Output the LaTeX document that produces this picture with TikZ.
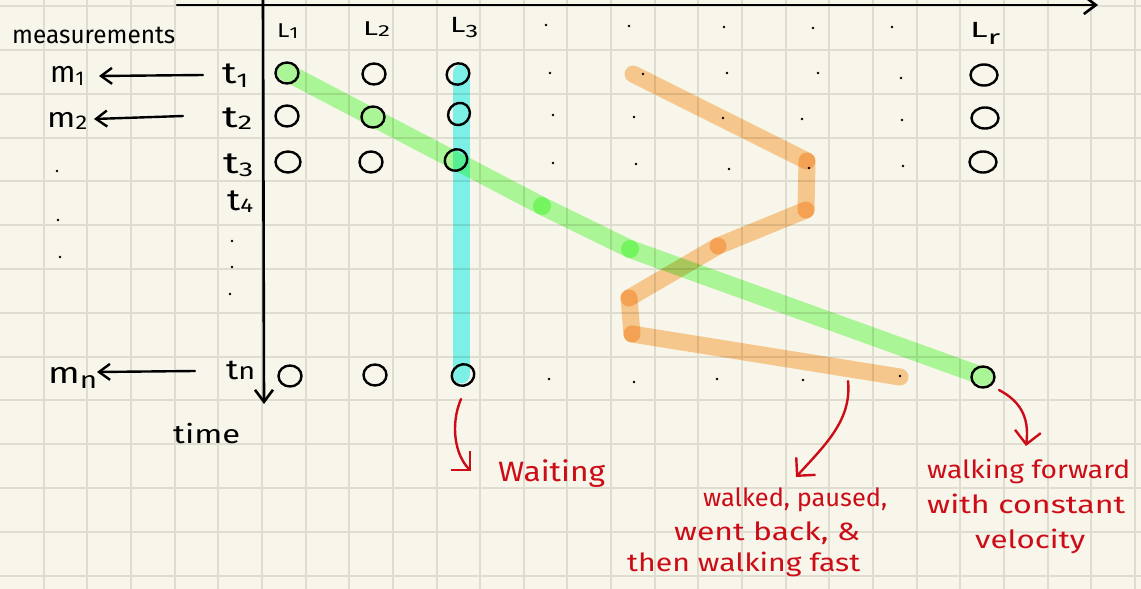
\documentclass[tikz,border=0pt]{standalone}
\usepackage{fontspec}
\setmainfont{Fira Sans}
\usepackage{graphicx}
\usetikzlibrary{arrows.meta,shapes.geometric}
\definecolor{paper}{RGB}{248,246,235}
\definecolor{gridc}{RGB}{223,221,208}
\definecolor{hlgreen}{RGB}{175,254,163}
\definecolor{hlcyan}{RGB}{128,249,250}
\definecolor{hlorange}{RGB}{253,207,152}
\definecolor{inkred}{RGB}{204,12,22}
\newcommand\fs[1]{\fontsize{#1}{#1}\selectfont}
\newcommand\fitw[2]{\resizebox{#1}{\height}{#2}}
\newcommand\lo[3]{\raisebox{-#1}{\fs{#2}#3}}
\tikzset{
  ink/.style={inner sep=0pt, text=black, anchor=base west},
  note/.style={inner sep=0pt, text=inkred, anchor=base west},
  circ/.style={ellipse, draw=black, line width=2.4pt, minimum width=23pt, minimum height=21pt, inner sep=0pt},
  circw/.style={circ, minimum width=27pt},
  hl/.style={line width=17pt, line cap=round},
  harrow/.style={line width=2.4pt, line cap=round, -{Straight Barb[length=11pt,width=16pt]}},
  axisline/.style={line width=2.6pt, line cap=round, -{Straight Barb[length=12pt,width=18pt]}},
  redarrow/.style={draw=inkred, line width=2.4pt, line cap=round, -{Straight Barb[length=13pt,width=26pt]}},
}
\begin{document}
\begin{tikzpicture}[x=1pt,y=-1pt]
\useasboundingbox (0,0) rectangle (1141,589);
\fill[paper] (0,0) rectangle (1141,589);
% grid
\foreach \k in {1,...,26} \draw[gridc, line width=2pt] ({43.65*\k},0) -- ({43.65*\k},589);
\foreach \j in {0,...,13} \draw[gridc, line width=2pt] (0,{6.2+43.8*\j}) -- (1141,{6.2+43.8*\j});

% axes
\coordinate (ytop) at (263,0);
\coordinate (ybot) at (264,404);
\coordinate (xl) at (177,5);
\coordinate (xr) at (1098,5);
\draw[axisline] (ytop) -- (ybot);
\draw[axisline] (xl) -- (xr);

% highlighter paths
\coordinate (cyTop) at (461,73);
\coordinate (cyBot) at (461,375);
\coordinate (g0) at (286,72);
\coordinate (g1) at (542,206);
\coordinate (g2) at (630,249);
\coordinate (g3) at (985,377);
\coordinate (o0) at (633,74);
\coordinate (o1) at (807,161);
\coordinate (o2) at (806,210);
\coordinate (o3) at (718,246);
\coordinate (o4) at (629,298);
\coordinate (o5) at (632,334);
\coordinate (o6) at (900,377);
\begin{scope}[blend mode=multiply]
  \draw[hl, hlcyan] (cyTop) -- (cyBot);
  \draw[hl, hlgreen, line width=18pt] (g0) -- (g1);
  \draw[hl, hlgreen, line width=18pt] (g1) -- (g2);
  \draw[hl, hlgreen, line width=18pt] (g2) -- (g3);
  \draw[hl, hlorange] (o0) -- (o1);
  \draw[hl, hlorange] (o1) -- (o2);
  \draw[hl, hlorange] (o2) -- (o3);
  \draw[hl, hlorange] (o3) -- (o4);
  \draw[hl, hlorange] (o4) -- (o5);
  \draw[hl, hlorange] (o5) -- (o6);
\end{scope}

% small dots
\foreach \p in {(546,25),(629,26),(724,27),(813,28),(892,27),
  (550,73),(643,74),(727,73),(818,73),(901,78),
  (553,115),(634,117),(723,118),(802,119),(902,120),
  (553,163),(636,164),(729,169),(809,168),(903,166),
  (549,379),(634,382),(717,379),(803,380),(900,376),
  (57,171),(58,220),(60,257),(232,241),(232,267),(230,294)}
  \fill[black] \p circle (1.3);

% circles
\node[circ] (c11) at (287,73) {};
\node[circ] (c12) at (374,74) {};
\node[circ, rotate=25] (c13) at (458,74) {};
\node[circw] (c1r) at (984,75) {};
\node[circ] (c21) at (287,116) {};
\node[circ] (c22) at (373,117) {};
\node[circ, rotate=50] (c23) at (459,114) {};
\node[circw] (c2r) at (985,118) {};
\node[circ, minimum width=25pt] (c31) at (288,162) {};
\node[circ] (c32) at (371,162) {};
\node[circ, rotate=30] (c33) at (456,160) {};
\node[circw] (c3r) at (983,162) {};
\node[circ] (cn1) at (290,376) {};
\node[circ] (cn2) at (375,375) {};
\node[circ, rotate=30] (cn3) at (463,375) {};
\node[circ] (cnr) at (983,377) {};

% column labels
\node[ink] (L1) at (277,37) {\fitw{21pt}{\fs{20}L\lo{1pt}{16}{1}}};
\node[ink] (L2) at (363,35) {\fitw{27pt}{\fs{20}L\lo{1pt}{16}{2}}};
\node[ink] (L3) at (450,32) {\fitw{28pt}{\fs{22}L\lo{5pt}{18}{3}}};
\node[ink] (Lr) at (970,37) {\fitw{30pt}{\fs{22}L\lo{7pt}{20}{r}}};

% row labels
\node[ink] (t1) at (222,83) {\fitw{26pt}{\fs{30}t\lo{4pt}{20}{1}}};
\node[ink] (t2) at (222,127) {\fitw{30pt}{\fs{30}t\lo{2pt}{20}{2}}};
\node[ink] (t3) at (223,173) {\fitw{30pt}{\fs{30}t\lo{3pt}{20}{3}}};
\node[ink] (t4) at (227,210) {\fitw{26pt}{\fs{30}t\lo{2pt}{20}{4}}};
\node[ink] (tn) at (226,379) {\fitw{29pt}{\fs{28}t{\fs{24}n}}};

\node[ink] (meas) at (12,43) {\fitw{163pt}{\fs{25}measurements}};
\node[ink] (m1) at (50,82) {\fitw{34pt}{\fs{30}m\lo{3pt}{20}{1}}};
\node[ink] (m2) at (47,127) {\fitw{40pt}{\fs{28}m\lo{2pt}{20}{2}}};
\node[ink] (mn) at (48,383) {\fitw{49pt}{\fs{30}m\lo{5pt}{24}{n}}};
\node[ink] (time) at (173,443) {\fitw{67pt}{\fs{26}time}};

\draw[harrow] ([xshift=-19pt,yshift=8pt]t1.base west) -- ([xshift=49pt,yshift=6pt]m1.base west);
\draw[harrow] ([xshift=-39pt,yshift=11pt]t2.base west) -- ([xshift=47pt,yshift=8pt]m2.base west);
\draw[harrow] ([xshift=-31pt,yshift=8pt]tn.base west) -- ([xshift=49pt,yshift=11pt]mn.base west);

% red notes
\node[note] (wait) at (498,481) {\fitw{107pt}{\fs{28}Waiting}};
\node[note] (n2a) at (703,506) {\fitw{184pt}{\fs{25}walked, paused,}};
\node[note] (n2b) at (674,540) {\fitw{186pt}{\fs{25}went back, \&}};
\node[note] (n2c) at (627,571) {\fitw{233pt}{\fs{25}then walking fast}};
\node[note] (n3a) at (927,478) {\fitw{203pt}{\fs{25}walking forward}};
\node[note] (n3b) at (927,513) {\fitw{198pt}{\fs{25}with constant}};
\node[note] (n3c) at (975,548) {\fitw{110pt}{\fs{25}velocity}};

\coordinate (a2s) at (848,381);
\draw[redarrow] ([xshift=-2pt,yshift=-24pt]cn3.center) .. controls (450,425) and (455,455) .. ([xshift=-27pt,yshift=10pt]wait.base west);
\draw[redarrow] (a2s) .. controls (852,420) and (825,445) .. ([xshift=93pt,yshift=29pt]n2a.base west);
\draw[redarrow] ([xshift=16pt,yshift=-13pt]cnr.center) .. controls (1018,400) and (1030,415) .. ([xshift=99pt,yshift=32pt]n3a.base west);
\end{tikzpicture}
\end{document}
